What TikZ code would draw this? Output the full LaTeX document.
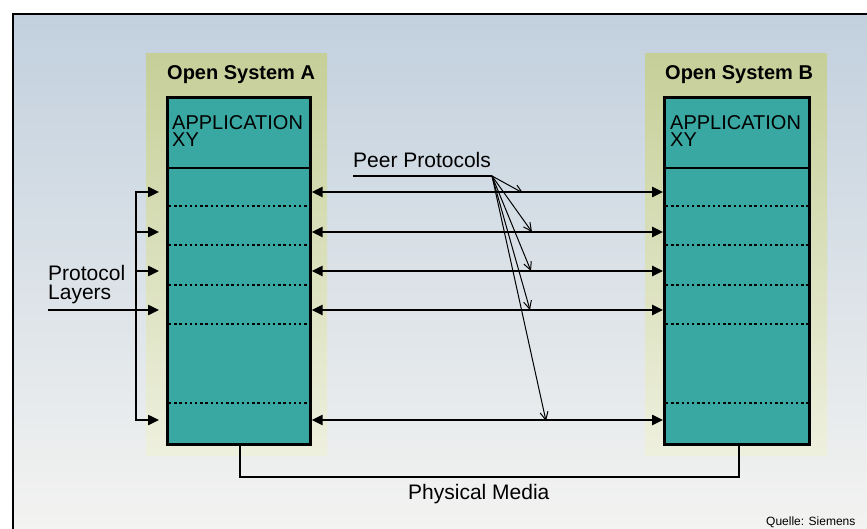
\documentclass[tikz,border=0pt]{standalone}
\usepackage{fontspec}
\setmainfont{Liberation Sans}
\usetikzlibrary{arrows.meta}

\definecolor{bgtop}{RGB}{194,208,222}
\definecolor{bgbot}{RGB}{243,243,241}
\definecolor{halotop}{RGB}{198,207,152}
\definecolor{halobot}{RGB}{238,240,222}
\definecolor{teal}{RGB}{58,168,162}

\tikzset{
  sysbox/.style={draw=black, line width=2.6pt, fill=teal, inner sep=0pt},
  halo/.style={top color=halotop, bottom color=halobot},
  dotline/.style={line width=2.4pt, dash pattern=on 2.4pt off 2.8pt},
  divider/.style={line width=2.6pt},
  arr/.style={line width=2.4pt, arrows={-Triangle[length=11pt,width=10pt]}},
  dblarr/.style={line width=2.4pt, arrows={Triangle[length=11pt,width=10pt]-Triangle[length=11pt,width=10pt]}},
  ptr/.style={line width=1pt, arrows={-Straight Barb[length=8pt,width=8pt]}},
  title/.style={anchor=base west, inner sep=0pt, font=\fontsize{20}{24}\selectfont\bfseries},
  label/.style={anchor=base west, inner sep=0pt, font=\fontsize{21}{24}\selectfont},
  apptext/.style={anchor=north west, inner sep=0pt, align=left, font=\fontsize{20}{17}\selectfont},
  wire/.style={line width=2.2pt},
}

\begin{document}
\begin{tikzpicture}[x=1pt, y=-1pt]
\useasboundingbox (0,0) rectangle (867,529);
\fill[white] (0,0) rectangle (867,529);

% panel background and frame
\shade[top color=bgtop, bottom color=bgbot] (13,14) rectangle (867,529);
\draw[line width=1.6pt] (13,529) -- (13,14) -- (867,14);

% soft green surround of each open system
\shade[halo] (146,54) rectangle (327,455);
\shade[halo] (645,54) rectangle (827,455);

% the two layer stacks
\node[sysbox, anchor=north west, minimum width=143, minimum height=347] (boxA) at (166,96) {};
\node[sysbox, anchor=north west, minimum width=145, minimum height=347] (boxB) at (663,96) {};

% application layer divider
\draw[divider] (boxA.west |- 0,168) -- (boxA.east |- 0,168);
\draw[divider] (boxB.west |- 0,168) -- (boxB.east |- 0,168);

% dotted layer boundaries
\foreach \yy in {206,245,285,324,403} {
  \draw[dotline] ([xshift=3pt]boxA.west |- 0,\yy) -- ([xshift=-3pt]boxA.east |- 0,\yy);
  \draw[dotline] ([xshift=3pt]boxB.west |- 0,\yy) -- ([xshift=-3pt]boxB.east |- 0,\yy);
}

% headings
\node[title] (titleA) at (167,80) {Open System A};
\node[title] (titleB) at (665,80) {Open System B};
\node[apptext] (appA) at (172,115.5) {APPLICATION\\XY};
\node[apptext] (appB) at (670,115.5) {APPLICATION\\XY};

% protocol layer bracket
\coordinate (bx1) at (136,192);
\coordinate (bx5) at (136,420);
\coordinate (t1) at (159,192);
\coordinate (t2) at (159,232);
\coordinate (t3) at (159,271);
\coordinate (t4) at (159,310);
\coordinate (t5) at (159,420);
\draw[dblarr] (t1) -- (bx1) -- (bx5) -- (t5);
\draw[arr] (bx1 |- t2) -- (t2);
\draw[arr] (bx1 |- t3) -- (t3);
\coordinate (lin) at (48,310);
\draw[arr] (lin) -- (t4);

\node[label] (plA) at (48,280) {Protocol};
\node[label] (plB) at (48,299) {Layers};

% peer protocol arrows between the stacks
\foreach \yy in {192,232,271,310,420} {
  \draw[dblarr] (boxA.east |- 0,\yy) -- (boxB.west |- 0,\yy);
}

% peer protocols label with pointers
\node[label] (peer) at (353,168) {Peer Protocols};
\coordinate (pu) at (353,176);
\coordinate (pp) at (492,176);
\draw[line width=1.3pt] (pu) -- (pp);
\coordinate (q1) at (523,193);
\coordinate (q2) at (532,232);
\coordinate (q3) at (531,271);
\coordinate (q4) at (530,310);
\coordinate (q5) at (546,421);
\foreach \q in {q1,q2,q3,q4,q5} {
  \draw[ptr] (pp) -- (\q);
}

% physical medium link
\coordinate (mA) at (240,477);
\coordinate (mB) at (739,477);
\draw[wire] (boxA.south -| mA) -- (mA) -- (mB) -- (boxB.south -| mB);
\node[label] (phys) at (408,499) {Physical Media};

\node[anchor=base west, inner sep=0pt, font=\fontsize{12}{13}\selectfont] (src) at (766,525) {Quelle: Siemens};
\end{tikzpicture}
\end{document}
